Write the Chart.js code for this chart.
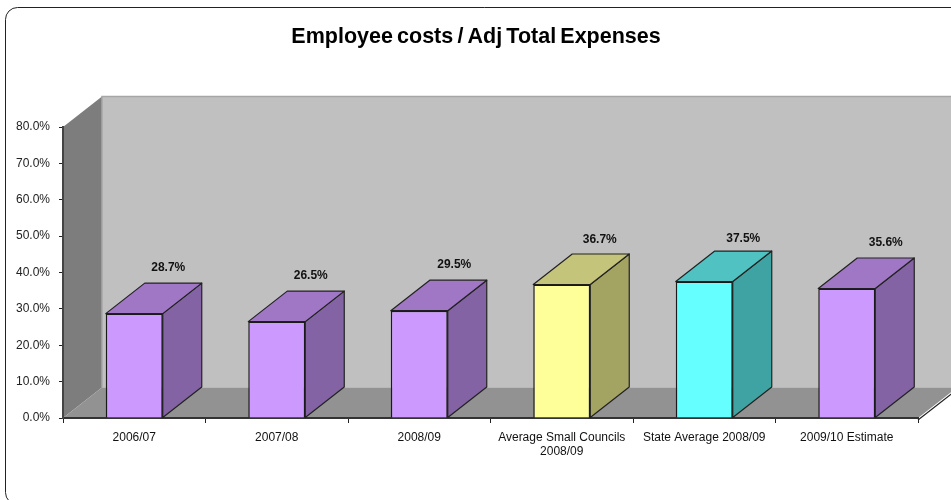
<!DOCTYPE html>
<html>
<head>
<meta charset="utf-8">
<style>
  html, body { margin: 0; padding: 0; background: #fff; }
  #wrap { position: relative; width: 951px; height: 500px; }
</style>
<script src="https://cdn.jsdelivr.net/npm/chart.js@4"></script>
</head>
<body>
<div id="wrap"><canvas id="chart" width="951" height="500"></canvas></div>
<script>
const TITLE = 'Employee costs / Adj Total Expenses';
const CATEGORIES = [
  '2006/07', '2007/08', '2008/09',
  ['Average Small Councils', '2008/09'],
  'State Average 2008/09', '2009/10 Estimate',
];
const VALUES = [28.7, 26.5, 29.5, 36.7, 37.5, 35.6];
const FRONT_COLORS = ['#cc99ff', '#cc99ff', '#cc99ff', '#ffff99', '#66ffff', '#cc99ff'];
const TOP_COLORS   = ['#a077c4', '#a077c4', '#a077c4', '#c4c47a', '#50c2c2', '#a077c4'];
const SIDE_COLORS  = ['#8363a3', '#8363a3', '#8363a3', '#a3a362', '#40a3a3', '#8363a3'];

// depth of the fake 3D box, in pixels
const DEPTH_X = 39;
const DEPTH_Y = -30.5;
// value labels float above the box, each a little differently
const LABEL_DX = [34, 34, 35, 38, 39, 39];
const LABEL_DY = [-46, -46, -46, -45, -43, -46];

function poly(ctx, pts, fill, stroke, width) {
  ctx.beginPath();
  pts.forEach((p, i) => i ? ctx.lineTo(p[0], p[1]) : ctx.moveTo(p[0], p[1]));
  ctx.closePath();
  if (fill) { ctx.fillStyle = fill; ctx.fill(); }
  if (stroke) { ctx.strokeStyle = stroke; ctx.lineWidth = width || 1; ctx.stroke(); }
}

const framePlugin = {
  id: 'frame',
  beforeDraw(chart) {
    const { ctx, chartArea: a } = chart;
    ctx.save();
    // rounded outer border, runs off the right and bottom edges
    ctx.beginPath();
    ctx.roundRect(5.5, 7.5, 1000, 497, 12);
    ctx.strokeStyle = '#222';
    ctx.lineWidth = 1;
    ctx.stroke();

    ctx.font = 'bold 21.5px "Liberation Sans"';
    ctx.wordSpacing = '-1.8px';
    ctx.fillStyle = '#000';
    ctx.textAlign = 'center';
    ctx.textBaseline = 'middle';
    ctx.fillText(TITLE, 476, 37);

    const bx = a.left + DEPTH_X, ty = a.top + DEPTH_Y, by = a.bottom + DEPTH_Y;
    const rx = a.right + DEPTH_X;
    poly(ctx, [[bx, ty], [rx, ty], [rx, by], [bx, by]], '#c0c0c0');
    poly(ctx, [[a.left, a.top], [bx, ty], [bx, by], [a.left, a.bottom]], '#7d7d7d');
    poly(ctx, [[a.left, a.bottom], [bx, by], [rx, by], [a.right, a.bottom]], '#929292');

    // lighter edges where the walls meet
    ctx.strokeStyle = '#a6a6a6';
    ctx.lineWidth = 1.5;
    ctx.beginPath();
    ctx.moveTo(bx, by); ctx.lineTo(bx, ty); ctx.lineTo(951, ty);
    ctx.stroke();

    ctx.strokeStyle = '#222';
    ctx.lineWidth = 1.2;
    ctx.beginPath();
    ctx.moveTo(a.right, a.bottom + 2); ctx.lineTo(rx, by + 2);
    ctx.stroke();
    ctx.restore();
  },
};

const boxPlugin = {
  id: 'box',
  // side and top faces go under the front face the bar draws
  beforeDatasetsDraw(chart) {
    const { ctx } = chart;
    const bars = chart.getDatasetMeta(0).data;
    ctx.save();
    ctx.lineJoin = 'round';
    bars.forEach((bar, i) => {
      const l = bar.x - bar.width / 2, r = bar.x + bar.width / 2;
      const t = bar.y, b = bar.base;
      poly(ctx, [[r, t], [r + DEPTH_X, t + DEPTH_Y], [r + DEPTH_X, b + DEPTH_Y], [r, b]], SIDE_COLORS[i], '#222', 1.2);
      poly(ctx, [[l, t], [l + DEPTH_X, t + DEPTH_Y], [r + DEPTH_X, t + DEPTH_Y], [r, t]], TOP_COLORS[i], '#222', 1.2);
    });
    ctx.restore();
  },
  afterDatasetsDraw(chart) {
    const { ctx } = chart;
    const bars = chart.getDatasetMeta(0).data;
    ctx.save();
    ctx.font = 'bold 12px "Liberation Sans"';
    ctx.fillStyle = '#111';
    ctx.textAlign = 'center';
    ctx.textBaseline = 'middle';
    bars.forEach((bar, i) => {
      ctx.fillText(VALUES[i].toFixed(1) + '%', bar.x + LABEL_DX[i], bar.y + LABEL_DY[i]);
    });
    ctx.restore();
  },
};

new Chart(document.getElementById('chart'), {
  type: 'bar',
  data: {
    labels: CATEGORIES,
    datasets: [{
      data: VALUES,
      backgroundColor: FRONT_COLORS,
      borderColor: '#1a1a1a',
      borderWidth: 1.5,
      barPercentage: 0.4,
      categoryPercentage: 1,
    }],
  },
  options: {
    responsive: false,
    animation: false,
    layout: { padding: { top: 127, right: 33 } },
    plugins: {
      legend: { display: false },
      tooltip: { enabled: false },
    },
    scales: {
      x: {
        grid: { drawOnChartArea: false, color: '#222', tickLength: 5, offset: true },
        border: { color: '#333', width: 2 },
        ticks: { color: '#111', font: { family: '"Liberation Sans"', size: 12 }, padding: 7, maxRotation: 0, autoSkip: false },
        afterFit(s) { s.height = 82; },
      },
      y: {
        min: 0,
        max: 80,
        grid: { drawOnChartArea: false, color: '#222', tickLength: 4 },
        border: { color: '#444', width: 2 },
        ticks: {
          stepSize: 10,
          color: '#222',
          font: { family: '"Liberation Sans"', size: 12 },
          padding: 9,
          callback: v => v.toFixed(1) + '%',
        },
        afterFit(s) { s.width = 63; },
      },
    },
  },
  plugins: [framePlugin, boxPlugin],
});
</script>
</body>
</html>
